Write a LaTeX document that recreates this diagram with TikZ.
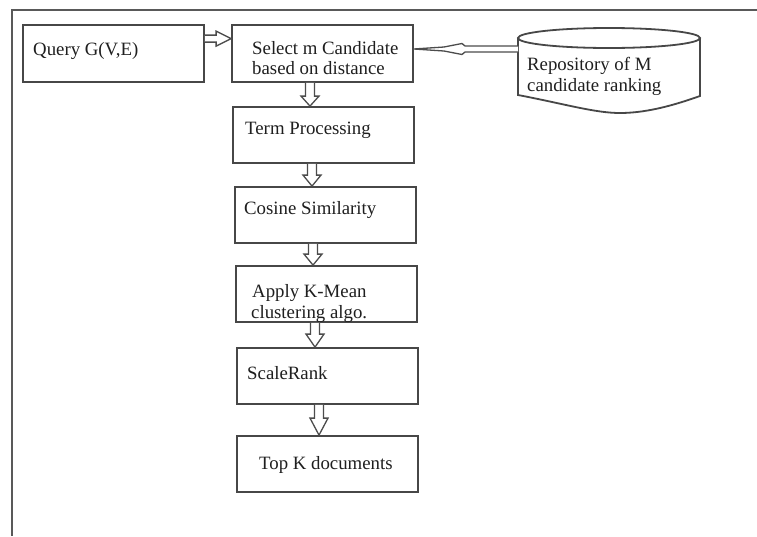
\documentclass[tikz,border=0pt]{standalone}
\usepackage{fontspec}
\setmainfont{Liberation Serif}
\usetikzlibrary{calc}
\tikzset{
  box/.style={draw=black!72, line width=1.8pt, rectangle, inner sep=0pt},
  shapeline/.style={draw=black!72, line width=1.8pt},
  txt/.style={anchor=base west, inner sep=0pt, font=\fontsize{18.8}{21}\selectfont, text=black!88},
  fatline/.style={draw=black!70, line width=1.3pt, fill=white, line join=miter},
  frame/.style={draw=black!65, line width=1.5pt}
}
\newcommand{\mybox}[5]{\node[box, minimum width={(#4-#2)*1pt}, minimum height={(#5-#3)*1pt}] (#1) at ({(#2+#4)/2},{(#3+#5)/2}) {};}
\newcommand{\fatdown}[4]{%
  \coordinate (fa) at ($(#1.south)+(#3,0)$);
  \coordinate (fb) at (fa |- #2.north);
  \draw[fatline] ($(fa)+(-4.5,0)$) -- ($(fb)+(-4.5,-#4)$) -- ($(fb)+(-9,-#4)$) -- (fb)
    -- ($(fb)+(9,-#4)$) -- ($(fb)+(4.5,-#4)$) -- ($(fa)+(4.5,0)$);}
\begin{document}
\begin{tikzpicture}[x=1pt,y=-1pt]
\useasboundingbox[fill=white] (0,0) rectangle (757,536);
\draw[frame] (757,10) -- (12,10) -- (12,536);
% boxes
\mybox{q}{23}{25}{204}{82}
\mybox{sel}{232}{25}{413}{82}
\mybox{term}{233}{107}{414}{163}
\mybox{cos}{235}{187}{416}{243}
\mybox{km}{236}{266}{417}{322}
\mybox{sr}{237}{348}{418}{404}
\mybox{top}{237}{436}{418}{492}
% repository
\draw[shapeline, fill=white] (518,38) -- (518,95) .. controls (565,104) and (595,113) .. (620,113) .. controls (650,113) and (680,103) .. (700,96) -- (700,38);
\draw[shapeline] (609,38) ellipse (91 and 10);
\coordinate (repoL) at (518,49);
% texts
\node[txt] (tq) at (33,55) {Query G(V,E)};
\node[txt] (ts1) at (252,54) {Select m Candidate};
\node[txt] (ts2) at (252,74) {based on distance};
\node[txt] (tt) at (245,134) {Term Processing};
\node[txt] (tc) at (244,214) {Cosine Similarity};
\node[txt] (tk1) at (252,297) {Apply K-Mean};
\node[txt] (tk2) at (251,318) {clustering algo.};
\node[txt] (tsr) at (247,379) {ScaleRank};
\node[txt] (ttop) at (259,469) {Top K documents};
\node[txt] (tr1) at (527,70) {Repository of M};
\node[txt] (tr2) at (527,91) {candidate ranking};
% connectors
\draw[fatline] ($(q.north east)+(0,11)$) -- ($(sel.north west)+(-15,11)$) -- ($(sel.north west)+(-15,7)$)
  -- ($(sel.north west)+(0,14.5)$) -- ($(sel.north west)+(-15,22)$) -- ($(sel.north west)+(-15,18)$)
  -- ($(q.north east)+(0,18)$);
\draw[fatline] ($(repoL)+(0,-3)$) -- ($(repoL)+(-53,-3)$) -- ($(repoL)+(-56,-5.5)$) -- ($(repoL)+(-74,-2)$)
  -- (sel.east |- repoL) -- ($(repoL)+(-74,2)$) -- ($(repoL)+(-56,5.5)$) -- ($(repoL)+(-53,3)$) -- ($(repoL)+(0,3)$);
\fatdown{sel}{term}{-12.5}{10}
\fatdown{term}{cos}{-11.5}{11}
\fatdown{cos}{km}{-12.5}{11}
\fatdown{km}{sr}{-11.5}{13}
\fatdown{sr}{top}{-8.5}{17}
\end{tikzpicture}
\end{document}
